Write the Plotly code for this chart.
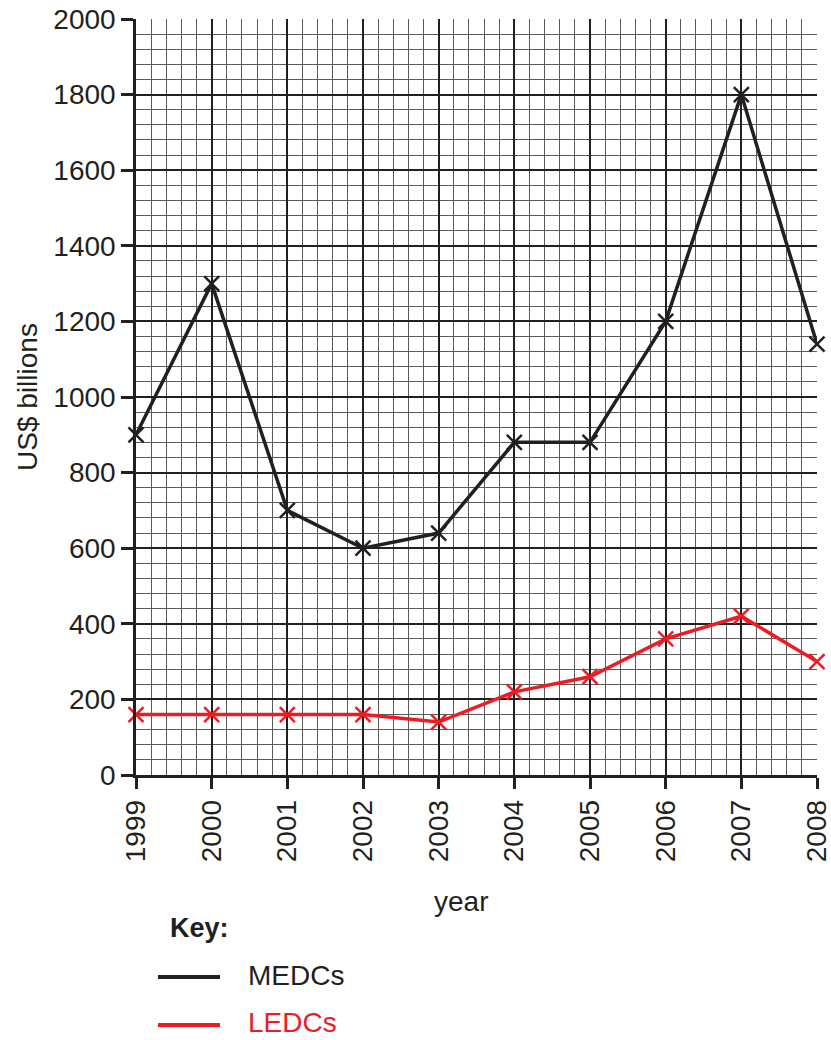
import plotly.graph_objects as go

years = [1999, 2000, 2001, 2002, 2003, 2004, 2005, 2006, 2007, 2008]
medcs = [900, 1300, 700, 600, 640, 880, 880, 1200, 1800, 1140]
ledcs = [160, 160, 160, 160, 140, 220, 260, 360, 420, 300]
y_ticks = list(range(0, 2001, 200))

FONT = "Liberation Sans, Arial, Helvetica, sans-serif"
L, R, T, B = 136, 14, 19, 265
W, H = 831, 1040
PW, PH = W - L - R, H - T - B

def px(x):
    return (x - L) / PW

def py(y):
    return (H - B - y) / PH

fig = go.Figure()
fig.add_trace(go.Scatter(
    x=years, y=medcs, mode="lines+markers", name="MEDCs",
    line=dict(color="#231f20", width=3.5),
    marker=dict(symbol="x-thin", size=15, line=dict(color="#231f20", width=2.5)),
    cliponaxis=False, showlegend=False))
fig.add_trace(go.Scatter(
    x=years, y=ledcs, mode="lines+markers", name="LEDCs",
    line=dict(color="#ed1c24", width=3.5),
    marker=dict(symbol="x-thin", size=15, line=dict(color="#ed1c24", width=2.5)),
    cliponaxis=False, showlegend=False))

fig.update_xaxes(
    range=[1999, 2008], tickmode="array", tickvals=years,
    ticktext=[str(y) for y in years], tickangle=-90,
    ticklabeloverflow="allow",
    ticks="outside", ticklen=11, tickwidth=2.5, tickcolor="#231f20",
    tickfont=dict(size=28, color="#231f20", family=FONT),
    showline=True, linecolor="#231f20", linewidth=2.5,
    showgrid=True, gridcolor="#231f20", gridwidth=1.5,
    minor=dict(dtick=0.2, showgrid=True, gridcolor="#5a5a5a", gridwidth=1, ticks=""),
    zeroline=False,
)
fig.update_yaxes(
    range=[0, 2000], tickmode="array", tickvals=y_ticks,
    ticklabeloverflow="allow",
    ticks="outside", ticklen=12, tickwidth=2.5, tickcolor="#231f20",
    tickfont=dict(size=28, color="#231f20", family=FONT),
    showline=True, linecolor="#231f20", linewidth=2.5,
    showgrid=True, gridcolor="#231f20", gridwidth=1.5,
    minor=dict(dtick=40, showgrid=True, gridcolor="#5a5a5a", gridwidth=1, ticks=""),
    zeroline=False,
    title=dict(text="US$ billions", font=dict(size=28, color="#231f20", family=FONT), standoff=8),
)

# x-axis title
fig.add_annotation(x=px(461), y=py(901), xref="paper", yref="paper", text="year",
                   showarrow=False, xanchor="center", yanchor="middle",
                   font=dict(size=28, color="#231f20", family=FONT))

# Key
fig.add_annotation(x=px(168), y=py(928), xref="paper", yref="paper", text="<b>Key:</b>",
                   showarrow=False, xanchor="left", yanchor="middle",
                   font=dict(size=27, color="#231f20", family=FONT))
fig.add_shape(type="line", xref="paper", yref="paper", x0=px(158), x1=px(220), y0=py(977), y1=py(977),
              line=dict(color="#231f20", width=4))
fig.add_shape(type="line", xref="paper", yref="paper", x0=px(158), x1=px(220), y0=py(1025), y1=py(1025),
              line=dict(color="#ed1c24", width=4))
fig.add_annotation(x=px(246), y=py(975), xref="paper", yref="paper", text="MEDCs",
                   showarrow=False, xanchor="left", yanchor="middle",
                   font=dict(size=28, color="#231f20", family=FONT))
fig.add_annotation(x=px(246), y=py(1023), xref="paper", yref="paper", text="LEDCs",
                   showarrow=False, xanchor="left", yanchor="middle",
                   font=dict(size=28, color="#ed1c24", family=FONT))

fig.update_layout(
    width=W, height=H,
    margin=dict(l=L, r=R, t=T, b=B, autoexpand=False),
    paper_bgcolor="white", plot_bgcolor="white",
    font=dict(family=FONT, color="#231f20"),
)

fig.write_html(
    "out.html",
    config={"displayModeBar": False},
    post_script="document.body.style.margin='0px';document.body.style.overflow='hidden';",
)
